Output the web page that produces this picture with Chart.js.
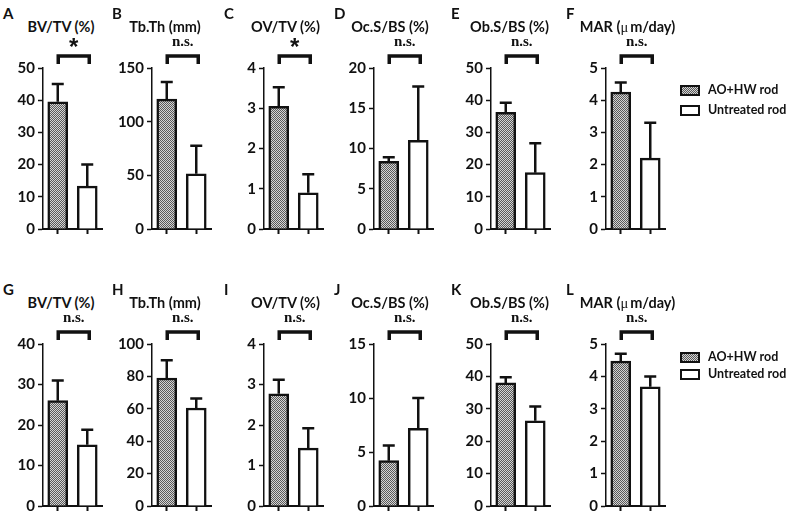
<!DOCTYPE html>
<html>
<head>
<meta charset="utf-8">
<script src="https://cdn.jsdelivr.net/npm/chart.js@4.4.1/dist/chart.umd.min.js"></script>
<style>
  body { margin: 0; width: 800px; height: 522px; position: relative; overflow: hidden; background: #fff;
         font-family: Lato, "Open Sans", sans-serif; color: #111; }
  canvas { position: absolute; }
  .abs { position: absolute; white-space: nowrap; line-height: 1; }
  .letter { font-weight: 700; font-size: 15px; }
  .title { font-weight: 700; font-size: 14.5px; transform: translateX(-50%); }
  .ns { font-family: "Liberation Serif", "DejaVu Serif", serif; font-weight: 700; font-size: 15px; transform: translateX(-50%); }
  .star { font-family: "Liberation Sans", Arial, sans-serif; font-weight: 700; font-size: 24px; transform: translateX(-50%); }
  .mu { font-family: "Liberation Serif", serif; font-weight: 400; margin-right: 2px; }
  .swatch { position: absolute; box-sizing: border-box; width: 20px; height: 11px; border: 2px solid #111; }
  .legtext { font-weight: 700; font-size: 12.5px; }
</style>
</head>
<body>
<script>
"use strict";

// values (mean and upper error bar length)
const groups = ["AO+HW rod", "Untreated rod"];
const panelLetters = ["A", "B", "C", "D", "E", "F", "G", "H", "I", "J", "K", "L"];
const measures = ["BV/TV (%)", "Tb.Th (mm)", "OV/TV (%)", "Oc.S/BS (%)", "Ob.S/BS (%)", "MAR (μm/day)"];
const significance = ["*", "n.s.", "*", "n.s.", "n.s.", "n.s.", "n.s.", "n.s.", "n.s.", "n.s.", "n.s.", "n.s."];
const yMax = [50, 150, 4, 20, 50, 5, 40, 100, 4, 15, 50, 5];
const yStep = [10, 50, 1, 5, 10, 1, 10, 20, 1, 5, 10, 1];
const treatedMean = [39.5, 121, 3.05, 8.4, 36.2, 4.25, 26, 79, 2.77, 4.2, 38, 4.47];
const treatedErr = [5.5, 16, 0.47, 0.5, 3.0, 0.3, 5, 11, 0.35, 1.4, 1.7, 0.23];
const untreatedMean = [13.3, 51.5, 0.9, 11, 17.5, 2.2, 15.1, 60.5, 1.43, 7.2, 26.3, 3.68];
const untreatedErr = [6.7, 26, 0.46, 6.7, 9.1, 1.1, 3.7, 5.8, 0.49, 2.8, 4.4, 0.32];

// layout
const COL_AXIS = [43, 152, 264, 374, 491, 606];
const TITLE_DX = [18, 13, 21.5, 16, 18.5, 21.5];
const ROW_TOP = [68, 344];
const ROW_H = [161, 162];
const YAXIS_W = 40, PAD_TOP = 30, PAD_RIGHT = 4, X_H = 12, PLOT_W = 59;
const INK = "#111";

function hatchTile() {
  const c = document.createElement("canvas");
  c.width = 2; c.height = 2;
  const g = c.getContext("2d");
  g.fillStyle = "#d4d4d4"; g.fillRect(0, 0, 2, 2);
  g.fillStyle = "#5a5a5a"; g.fillRect(0, 0, 1, 1); g.fillRect(1, 1, 1, 1);
  return c;
}
const tile = hatchTile();

function addText(txt, cls, left, top) {
  const d = document.createElement("div");
  d.className = "abs " + cls;
  d.textContent = txt;
  d.style.left = left + "px";
  d.style.top = top + "px";
  document.body.appendChild(d);
  return d;
}

const errorBars = {
  id: "errorBars",
  afterDatasetsDraw(chart, args, opts) {
    const ctx = chart.ctx, y = chart.scales.y;
    const ds = chart.data.datasets[0];
    ctx.save();
    ctx.strokeStyle = INK;
    ctx.lineWidth = 2.5;
    chart.getDatasetMeta(0).data.forEach((bar, k) => {
      const top = y.getPixelForValue(ds.data[k] + opts.errors[k]);
      ctx.beginPath();
      ctx.moveTo(bar.x, bar.y);
      ctx.lineTo(bar.x, top);
      ctx.moveTo(bar.x - 6, top);
      ctx.lineTo(bar.x + 6, top);
      ctx.stroke();
    });
    ctx.restore();
  }
};

const bracket = {
  id: "bracket",
  afterDraw(chart) {
    const ctx = chart.ctx, bars = chart.getDatasetMeta(0).data;
    const x0 = bars[0].x + 0.5, x1 = bars[1].x + 2;
    const yt = chart.chartArea.top - 12, yb = chart.chartArea.top - 4;
    ctx.save();
    ctx.strokeStyle = INK;
    ctx.lineWidth = 3.5;
    ctx.lineJoin = "miter";
    ctx.beginPath();
    ctx.moveTo(x0, yb); ctx.lineTo(x0, yt); ctx.lineTo(x1, yt); ctx.lineTo(x1, yb);
    ctx.stroke();
    ctx.restore();
  }
};

function makePanel(i) {
  const row = Math.floor(i / 6), col = i % 6;
  const axisX = COL_AXIS[col], top = ROW_TOP[row];
  const canvas = document.createElement("canvas");
  canvas.width = YAXIS_W + PLOT_W + PAD_RIGHT;
  canvas.height = PAD_TOP + ROW_H[row] + X_H;
  const left = axisX - YAXIS_W, ctop = top - PAD_TOP;
  canvas.style.left = left + "px";
  canvas.style.top = ctop + "px";
  document.body.appendChild(canvas);
  const hatch = canvas.getContext("2d").createPattern(tile, "repeat");

  const chart = new Chart(canvas, {
    type: "bar",
    data: {
      labels: groups,
      datasets: [{
        data: [treatedMean[i], untreatedMean[i]],
        backgroundColor: [hatch, "#ffffff"],
        borderColor: INK,
        borderWidth: 2.5,
        barThickness: 20
      }]
    },
    options: {
      responsive: false,
      animation: false,
      devicePixelRatio: 1,
      layout: { padding: { top: PAD_TOP, right: PAD_RIGHT, left: 0, bottom: 0 } },
      plugins: {
        legend: { display: false },
        tooltip: { enabled: false },
        errorBars: { errors: [treatedErr[i], untreatedErr[i]] }
      },
      scales: {
        x: {
          offset: true,
          ticks: { display: false },
          grid: { offset: false, drawOnChartArea: false, tickLength: 5, tickWidth: 2, tickColor: INK },
          border: { color: INK, width: 2 },
          afterFit(s) { s.height = X_H; }
        },
        y: {
          min: 0, max: yMax[i],
          ticks: { stepSize: yStep[i], padding: 3, color: INK,
                   font: { family: "Lato", weight: "bold", size: 15 } },
          grid: { drawOnChartArea: false, tickLength: 5, tickWidth: 1.5, tickColor: INK },
          border: { color: INK, width: 1.5 },
          afterFit(s) { s.width = YAXIS_W; }
        }
      }
    },
    plugins: [errorBars, bracket]
  });

  // labels placed from the chart geometry
  const bars = chart.getDatasetMeta(0).data;
  const midX = left + (bars[0].x + bars[1].x) / 2 + 1.25;
  const areaTop = ctop + chart.chartArea.top;
  addText(panelLetters[i], "letter", axisX - 40, areaTop - 62.5);
  const t = addText("", "title", axisX + TITLE_DX[col], areaTop - 48);
  const name = measures[col];
  if (name.indexOf("μ") >= 0) {
    const parts = name.split("μ");
    t.append(parts[0]);
    const mu = document.createElement("span");
    mu.className = "mu"; mu.textContent = "μ";
    t.append(mu, parts[1]);
  } else {
    t.textContent = name;
  }
  if (significance[i] === "*") addText("*", "star", midX, areaTop - 33);
  else addText(significance[i], "ns", midX, areaTop - 34);
}

for (let i = 0; i < 12; i++) makePanel(i);

// legend for each row
const tileUrl = tile.toDataURL();
const LEGEND_ROWS = [[84.5, 104.5], [351.5, 368.5]];
LEGEND_ROWS.forEach(ys => {
  ys.forEach((y, k) => {
    const s = document.createElement("div");
    s.className = "swatch";
    s.style.left = "680px";
    s.style.top = y + "px";
    if (k === 0) { s.style.backgroundImage = "url(" + tileUrl + ")"; }
    else { s.style.background = "#fff"; s.style.borderWidth = "2.5px"; }
    document.body.appendChild(s);
    addText(groups[k], "legtext", 708, y - 1);
  });
});
</script>
</body>
</html>
